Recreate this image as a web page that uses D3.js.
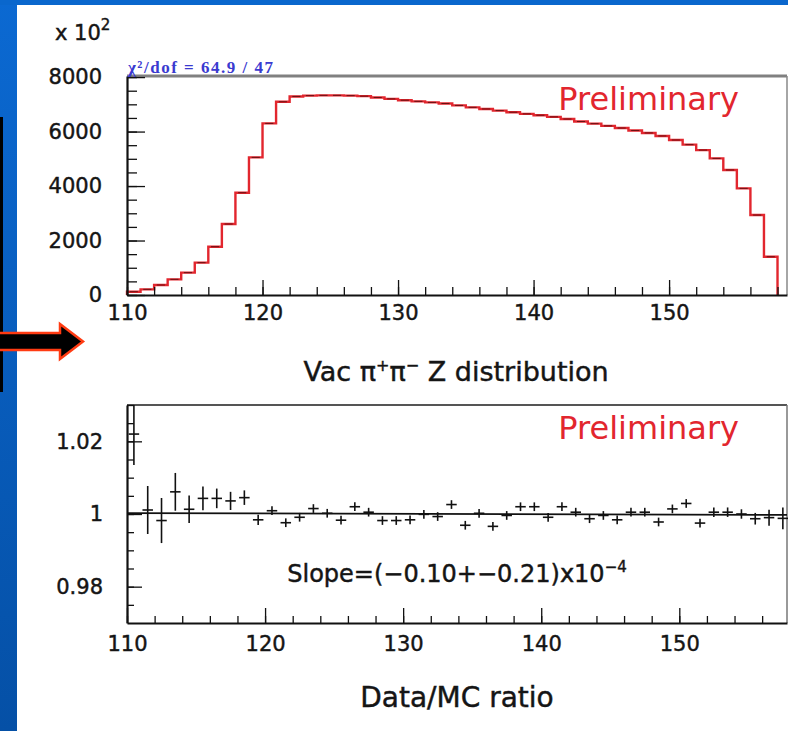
<!DOCTYPE html>
<html>
<head>
<meta charset="utf-8">
<script src="https://cdn.jsdelivr.net/npm/d3@7"></script>
<style>
  body { margin: 0; background: #fff; }
  svg { display: block; }
  text { font-family: "DejaVu Sans", sans-serif; fill: #151515; }
  .heavy { stroke: #151515; stroke-width: 0.45px; }
</style>
</head>
<body>
<script>
const width = 788;
const height = 731;

// top panel: vacuum pi+pi- Z distribution, 1 unit bins (counts, plotted x 10^2 axis)
const binLow = [110, 111, 112, 113, 114, 115, 116, 117, 118, 119,
                120, 121, 122, 123, 124, 125, 126, 127, 128, 129,
                130, 131, 132, 133, 134, 135, 136, 137, 138, 139,
                140, 141, 142, 143, 144, 145, 146, 147, 148, 149,
                150, 151, 152, 153, 154, 155, 156, 157];
const binWidth = 1;
const zCounts = [121, 208, 367, 575, 820, 1187, 1774, 2606, 3755, 5052,
                 6300, 7094, 7290, 7320, 7330, 7330, 7320, 7300, 7250, 7200,
                 7150, 7110, 7070, 7030, 6960, 6890, 6830, 6770, 6710, 6650,
                 6600, 6540, 6460, 6370, 6290, 6210, 6130, 6040, 5950, 5840,
                 5690, 5520, 5320, 5015, 4590, 3915, 2935, 1405];

// bottom panel: data/MC ratio per bin
const ratio = [1.022, 1.0011, 0.9982, 1.0061, 1.0013, 1.0043, 1.0043, 1.0036, 1.0045, 0.9984,
               1.0009, 0.9976, 0.9991, 1.0015, 1.0002, 0.9983, 1.0020, 1.0005, 0.9982, 0.9982,
               0.9984, 0.9999, 0.9993, 1.0026, 0.9969, 1.0002, 0.9966, 0.9996, 1.0020, 1.0020,
               0.9991, 1.0020, 1.0005, 0.9987, 0.9996, 0.9984, 1.0005, 1.0005, 0.9978, 1.0014,
               1.0029, 0.9975, 1.0005, 1.0005, 1.0000, 0.9987, 0.9990, 0.9988];
const ratioErr = [0.0085, 0.0066, 0.0062, 0.0052, 0.0038, 0.0033, 0.0027, 0.0025, 0.0020, 0.0014,
                  0.0012, 0.0012, 0.0012, 0.0012, 0.0012, 0.0012, 0.0012, 0.0012, 0.0012, 0.0012,
                  0.0012, 0.0012, 0.0012, 0.0012, 0.0012, 0.0012, 0.0012, 0.0012, 0.0012, 0.0012,
                  0.0012, 0.0012, 0.0012, 0.0012, 0.0012, 0.0012, 0.0012, 0.0012, 0.0012, 0.0012,
                  0.0012, 0.0012, 0.0013, 0.0013, 0.0013, 0.0016, 0.0022, 0.0030];
const fitP0 = 1.0;
const fitSlope = -0.10e-4;

const zTicks = [110, 120, 130, 140, 150];
const countTicks = [0, 2000, 4000, 6000, 8000];
const ratioTicks = [0.98, 1, 1.02];

const red = "#e2262e";

const svg = d3.select("body").append("svg")
    .attr("width", width).attr("height", height);

// slide decoration
const grad = svg.append("defs").append("linearGradient")
    .attr("id", "band").attr("x1", 0).attr("y1", 0).attr("x2", 0).attr("y2", 1);
grad.append("stop").attr("offset", "0%").attr("stop-color", "#0b69d2");
grad.append("stop").attr("offset", "100%").attr("stop-color", "#0550a6");
svg.append("rect").attr("width", 17).attr("height", height).attr("fill", "url(#band)");
svg.append("rect").attr("width", width).attr("height", 5).attr("fill", "#0a67cd");
svg.append("rect").attr("x", 0).attr("y", 117).attr("width", 3).attr("height", 275).attr("fill", "#000");
svg.append("path")
    .attr("d", "M-3,333H60V324L83,341.5L60,359V350H-3Z")
    .attr("fill", "#000").attr("stroke", "#ff3b12").attr("stroke-width", 2.5);

// ---------- top panel ----------
const xTop = d3.scaleLinear().domain([110, 158.7]).range([127, 787]);
const yTop = d3.scaleLinear().domain([0, 8040]).range([295, 76]);

svg.append("line").attr("x1", 127).attr("x2", 787).attr("y1", 76).attr("y2", 76)
    .attr("stroke", "#808080").attr("stroke-width", 3);
svg.append("line").attr("x1", 787).attr("x2", 787).attr("y1", 76).attr("y2", 295)
    .attr("stroke", "#888").attr("stroke-width", 1.5);

const histPts = [[binLow[0], 0]];
binLow.forEach((lo, i) => {
    histPts.push([lo, zCounts[i]]);
    histPts.push([lo + binWidth, zCounts[i]]);
});
histPts.push([binLow[binLow.length - 1] + binWidth, 0]);

svg.append("path")
    .attr("d", d3.line().x(d => xTop(d[0])).y(d => yTop(d[1]))(histPts))
    .attr("fill", "none").attr("stroke", red).attr("stroke-width", 2.4);

// data points sitting on the MC histogram
svg.append("g").selectAll("line").data(binLow).enter().append("line")
    .attr("x1", d => xTop(d + 0.2)).attr("x2", d => xTop(d + 0.8))
    .attr("y1", (d, i) => yTop(zCounts[i])).attr("y2", (d, i) => yTop(zCounts[i]))
    .attr("stroke", "#3a0808").attr("stroke-width", 0.9).attr("opacity", 0.8);

svg.append("g").attr("transform", "translate(0,295)")
    .call(d3.axisBottom(xTop).tickValues(d3.range(110, 159, 2)).tickSize(-8).tickFormat(""))
    .call(g => g.select(".domain").remove());
svg.append("g").attr("transform", "translate(0,295)")
    .call(d3.axisBottom(xTop).tickValues(zTicks).tickSize(-15).tickSizeOuter(0).tickPadding(10))
    .attr("class", "axis");
svg.append("g").attr("transform", "translate(127,0)")
    .call(d3.axisLeft(yTop).tickValues(d3.range(0, 8001, 500)).tickSize(-10).tickFormat(""))
    .call(g => g.select(".domain").remove());
svg.append("g").attr("transform", "translate(127,0)")
    .call(d3.axisLeft(yTop).tickValues(countTicks).tickSize(-18).tickSizeOuter(0).tickPadding(25)
        .tickFormat(d3.format("d")))
    .attr("class", "axis");

svg.append("text").attr("x", 55).attr("y", 40).attr("font-size", 21).attr("class", "heavy")
    .text("x 10").append("tspan").attr("dy", -10).attr("font-size", 15).text("2");

svg.append("text").attr("x", 128).attr("y", 73)
    .attr("font-size", 17).attr("font-weight", "bold").attr("textLength", 145)
    .style("font-family", "'Liberation Serif', serif").style("fill", "#3a3ad0")
    .text("χ²/dof = 64.9 / 47");

svg.append("text").attr("x", 739).attr("y", 110).attr("text-anchor", "end")
    .attr("font-size", 32).style("fill", red).text("Preliminary");

const zLabel = svg.append("text").attr("x", 456).attr("y", 381).attr("class", "heavy")
    .attr("text-anchor", "middle").attr("font-size", 27);
zLabel.append("tspan").text("Vac π");
zLabel.append("tspan").attr("dy", -10).attr("font-size", 16).text("+");
zLabel.append("tspan").attr("dy", 10).text("π");
zLabel.append("tspan").attr("dy", -10).attr("font-size", 16).text("−");
zLabel.append("tspan").attr("dy", 10).text(" Z distribution");

// ---------- bottom panel ----------
const xBot = d3.scaleLinear().domain([110, 157.8]).range([127, 787]);
const yBot = d3.scaleLinear().domain([0.97, 1.03]).range([623, 405]);

svg.append("line").attr("x1", 127).attr("x2", 787).attr("y1", 405).attr("y2", 405)
    .attr("stroke", "#555").attr("stroke-width", 2);
svg.append("line").attr("x1", 787).attr("x2", 787).attr("y1", 405).attr("y2", 623)
    .attr("stroke", "#777").attr("stroke-width", 1.5);

const fitDomain = xBot.domain();
svg.append("line")
    .attr("x1", xBot(fitDomain[0])).attr("x2", xBot(fitDomain[1]))
    .attr("y1", yBot(fitP0 + fitSlope * (fitDomain[0] - 134)))
    .attr("y2", yBot(fitP0 + fitSlope * (fitDomain[1] - 134)))
    .attr("stroke", "#111").attr("stroke-width", 1.8);

const pts = svg.append("g").selectAll("g").data(binLow).enter().append("g")
    .attr("stroke", "#111").attr("stroke-width", 1.6);
pts.append("line")
    .attr("x1", d => xBot(d + 0.5)).attr("x2", d => xBot(d + 0.5))
    .attr("y1", (d, i) => Math.max(405, yBot(ratio[i] + ratioErr[i])))
    .attr("y2", (d, i) => yBot(ratio[i] - ratioErr[i]));
pts.append("line")
    .attr("x1", d => xBot(d + 0.12)).attr("x2", d => xBot(d + 0.88))
    .attr("y1", (d, i) => yBot(ratio[i])).attr("y2", (d, i) => yBot(ratio[i]));

svg.append("g").attr("transform", "translate(0,623)")
    .call(d3.axisBottom(xBot).tickValues(d3.range(110, 158, 2)).tickSize(-7).tickFormat(""))
    .call(g => g.select(".domain").remove());
svg.append("g").attr("transform", "translate(0,623)")
    .call(d3.axisBottom(xBot).tickValues(zTicks).tickSize(-15).tickSizeOuter(0).tickPadding(13))
    .attr("class", "axis");
svg.append("g").attr("transform", "translate(127,0)")
    .call(d3.axisLeft(yBot).tickValues(d3.range(0.975, 1.0301, 0.005)).tickSize(-7).tickFormat(""))
    .call(g => g.select(".domain").remove());
svg.append("g").attr("transform", "translate(127,0)")
    .call(d3.axisLeft(yBot).tickValues(ratioTicks).tickSize(-15).tickSizeOuter(0).tickPadding(24)
        .tickFormat(d => d === 1 ? "1" : d3.format(".2f")(d)))
    .attr("class", "axis");

svg.append("text").attr("x", 739).attr("y", 439).attr("text-anchor", "end")
    .attr("font-size", 32).style("fill", red).text("Preliminary");

const slope = svg.append("text").attr("x", 457).attr("y", 582).attr("class", "heavy")
    .attr("text-anchor", "middle").attr("font-size", 24);
slope.append("tspan").text("Slope=(−0.10+−0.21)x10");
slope.append("tspan").attr("dy", -10).attr("font-size", 15).text("−4");

svg.append("text").attr("x", 457).attr("y", 707).attr("class", "heavy")
    .attr("text-anchor", "middle").attr("font-size", 28).text("Data/MC ratio");

// axis styling
svg.selectAll(".tick line").attr("stroke", "#111").attr("stroke-width", 1.3);
svg.selectAll(".axis .domain").attr("stroke", "#111").attr("stroke-width", 2.2);
svg.selectAll(".axis text").attr("font-size", 21).attr("class", "heavy")
    .style("font-family", "'DejaVu Sans', sans-serif").attr("fill", "#151515");
</script>
</body>
</html>
